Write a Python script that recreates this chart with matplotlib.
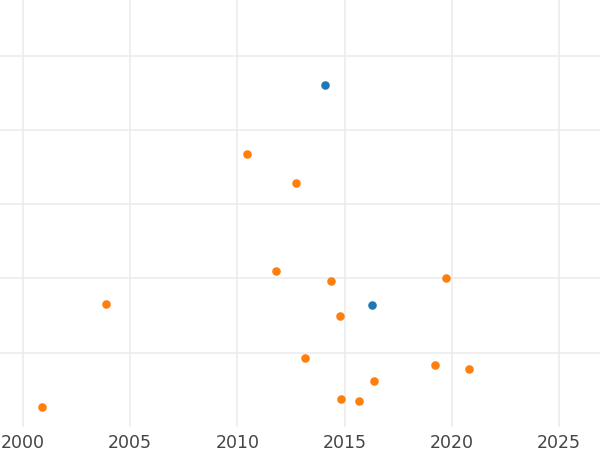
import matplotlib
matplotlib.use("Agg")
import matplotlib.pyplot as plt

# values
blue_x = [2014.09, 2016.30]
blue_y = [4.60, 1.64]

orange_x = [2010.46, 2012.76, 2011.80, 2014.37, 2019.75, 2003.90, 2014.79,
            2013.18, 2019.22, 2020.81, 2016.36, 2014.84, 2015.68, 2000.92]
orange_y = [3.68, 3.28, 2.10, 1.96, 2.00, 1.66, 1.50,
            0.93, 0.84, 0.78, 0.62, 0.38, 0.35, 0.27]

x_ticks = [2000, 2005, 2010, 2015, 2020, 2025]
y_ticks = [1, 2, 3, 4, 5]

fig = plt.figure(figsize=(6, 4.5), dpi=100)
ax = fig.add_axes([0, 23 / 450, 1, 427 / 450])

ax.scatter(orange_x, orange_y, s=38, color="#ff7f0e", linewidths=0, zorder=3)
ax.scatter(blue_x, blue_y, s=38, color="#1f77b4", linewidths=0, zorder=3)

ax.set_xlim(1998.94, 2026.91)
ax.set_ylim(0, 5.75)
ax.set_xticks(x_ticks)
ax.set_yticks(y_ticks)
ax.set_yticklabels([])
ax.grid(True, color="#ebebeb", linewidth=1.1)
ax.set_axisbelow(True)
ax.tick_params(axis="both", length=0, pad=5)
ax.tick_params(axis="x", labelsize=12.5, labelcolor="#444444")
for s in ax.spines.values():
    s.set_visible(False)

fig.savefig("out.png", dpi=100)
